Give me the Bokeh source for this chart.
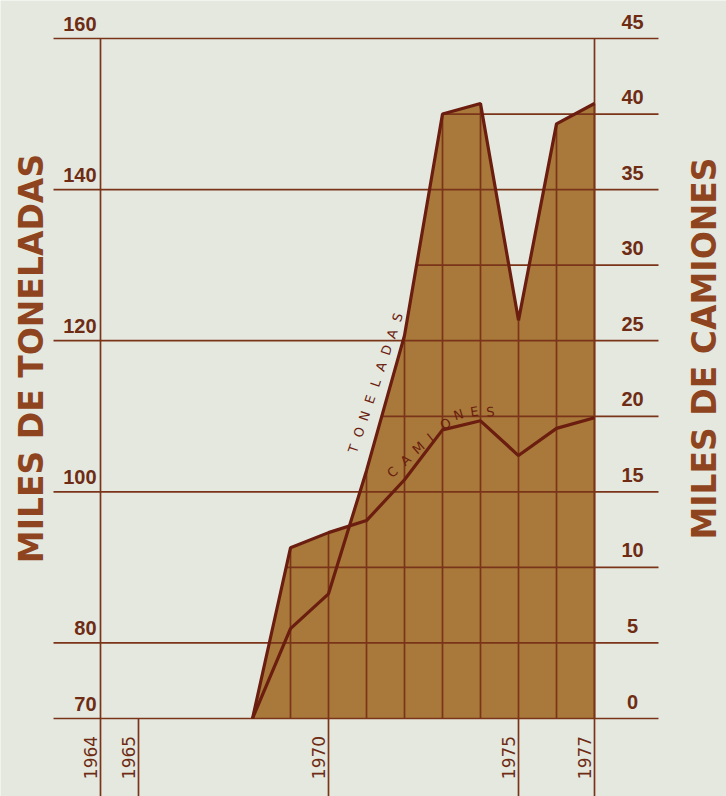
import numpy as np
from bokeh.plotting import figure
from bokeh.models import Range1d
from bokeh.core.properties import value
from bokeh.embed import file_html
from bokeh.resources import INLINE

# ---------------- data ----------------
years = [1968, 1969, 1970, 1971, 1972, 1973, 1974, 1975, 1976, 1977]
toneladas = [70.0, 81.9, 86.5, 102.8, 120.7, 150.0, 151.4, 122.7, 148.7, 151.4]   # miles de toneladas (left)
camiones = [0.0, 11.3, 12.3, 13.1, 15.8, 19.1, 19.7, 17.4, 19.2, 19.9]            # miles de camiones (right)

ton_ticks = [70, 80, 100, 120, 140, 160]
ton_grid = [70, 80, 90, 100, 110, 120, 130, 140, 150, 160]
cam_ticks = [0, 5, 10, 15, 20, 25, 30, 35, 40, 45]
year_ticks = [1964, 1965, 1970, 1975, 1977]
year_labels = ["1964", "1965", "1970", "1975", "1977"]

# ---------------- styles ----------------
BG = "#e5e8df"
FILL = "#a8793a"
LINE = "#6b1d0f"
GRID = "#7a3419"
TICK_TXT = "#6e2c14"
TITLE_TXT = "#8f4420"

W, H = 726, 796
PX_YEAR = 38.0            # px per year
PX_TON = 680.0 / 90.0     # px per thousand tons

x_start = 1964 - 100 / PX_YEAR
x_end = x_start + W / PX_YEAR
y_end = 160 + 38 / PX_TON
y_start = y_end - H / PX_TON
# right axis: 0..45 camiones <-> 70..160 toneladas
cam_start = (y_start - 70) * 45 / 90
cam_end = (y_end - 70) * 45 / 90

p = figure(width=W, height=H, x_range=Range1d(x_start, x_end), y_range=Range1d(y_start, y_end),
           x_axis_location=None, y_axis_location=None, toolbar_location=None,
           output_backend="svg", min_border=0, background_fill_color=BG,
           border_fill_color=BG, outline_line_color=None)
p.extra_y_ranges = {"cam": Range1d(cam_start, cam_end)}
p.grid.visible = False

# ---------------- filled areas ----------------
p.varea(x=years, y1=70, y2=toneladas, fill_color=FILL, fill_alpha=1)
p.varea(x=years, y1=0, y2=camiones, fill_color=FILL, fill_alpha=1, y_range_name="cam")

# upper edge of the union of both filled areas (in toneladas units)
ton_arr = np.array(toneladas)
cam_as_ton = 70 + np.array(camiones) * 90 / 45
top = np.maximum(ton_arr, cam_as_ton)
xs = np.linspace(years[0], years[-1], 9001)
top_fine = np.maximum(np.interp(xs, years, ton_arr), np.interp(xs, years, cam_as_ton))

line_x0 = 1964 - 47 / PX_YEAR
line_x1 = 1964 + 558 / PX_YEAR

# ---------------- horizontal rules ----------------
hx0, hx1, hy = [], [], []
for lv in ton_grid:
    if lv in ton_ticks:
        hx0.append(line_x0)
    else:
        hx0.append(xs[np.argmax(top_fine >= lv)])
    hx1.append(line_x1)
    hy.append(lv)
p.segment(x0=hx0, x1=hx1, y0=hy, y1=hy, line_color=GRID, line_width=1.7)

# ---------------- vertical rules ----------------
vx, vy0, vy1 = [], [], []
for yr, t in zip(years[1:], top[1:]):
    vx.append(yr); vy0.append(70); vy1.append(t)
for yr in year_ticks:
    vx.append(yr); vy0.append(y_start); vy1.append(70)
for yr in (1964, 1977):
    vx.append(yr); vy0.append(70); vy1.append(160)
p.segment(x0=vx, x1=vx, y0=vy0, y1=vy1, line_color=GRID, line_width=1.7)

# ---------------- series lines ----------------
p.line(years, toneladas, line_color=LINE, line_width=3.2)
p.line(years, camiones, line_color=LINE, line_width=3.2, y_range_name="cam")

# ---------------- tick labels ----------------
TICKF = value("Liberation Sans")
p.text(x=[1964] * len(ton_ticks), y=ton_ticks, text=[str(v) for v in ton_ticks],
       x_offset=-4, y_offset=-15, text_align="right", text_baseline="middle",
       text_font=TICKF, text_font_style="bold", text_font_size="20px", text_color=TICK_TXT)
p.text(x=[1978] * len(cam_ticks), y=cam_ticks, text=[str(v) for v in cam_ticks],
       y_offset=-17, text_align="center", text_baseline="middle", y_range_name="cam",
       text_font=TICKF, text_font_style="bold", text_font_size="20px", text_color=TICK_TXT)
p.text(x=year_ticks, y=[70] * len(year_ticks), text=year_labels, angle=np.pi / 2,
       x_offset=-10, y_offset=39, text_align="center", text_baseline="middle",
       text_font=value("DejaVu Sans"), text_font_size="17px", text_color=TICK_TXT)

# ---------------- axis titles ----------------
p.text(x=[1964 - 69 / PX_YEAR], y=[70 + 360 / PX_TON], text=["MILES DE TONELADAS"], angle=np.pi / 2,
       text_align="center", text_baseline="middle", text_font=value("DejaVu Sans"),
       text_font_style="bold", text_font_size="33px", text_color=TITLE_TXT)
p.text(x=[1964 + 604 / PX_YEAR], y=[70 + 370 / PX_TON], text=["MILES DE CAMIONES"], angle=np.pi / 2,
       text_align="center", text_baseline="middle", text_font=value("DejaVu Sans"),
       text_font_style="bold", text_font_size="33px", text_color=TITLE_TXT)

# ---------------- in-chart series labels (letter-spaced) ----------------
ton_letters = list("TONELADAS")
ton_lx = np.linspace(1970.66, 1971.82, len(ton_letters))
ton_ly = np.linspace(105.7, 123.1, len(ton_letters))
p.text(x=ton_lx, y=ton_ly, text=ton_letters, angle=1.246, text_align="center",
       text_baseline="middle", text_font=value("DejaVu Sans"), text_font_size="13px",
       text_color=LINE)

cam_letters = list("CAMIONES")
cam_lx = [1971.68, 1972.03, 1972.37, 1972.68, 1973.08, 1973.42, 1973.84, 1974.26]
cam_ly = [16.3, 17.1, 17.9, 18.6, 19.5, 20.1, 20.3, 20.3]
cam_ang = [0.72, 0.72, 0.72, 0.68, 0.5, 0.3, 0.15, 0.1]
p.text(x=cam_lx, y=cam_ly, text=cam_letters, angle=cam_ang, text_align="center",
       text_baseline="middle", y_range_name="cam", text_font=value("DejaVu Sans"),
       text_font_size="13px", text_color=LINE)

open("out.html", "w").write(file_html(p, INLINE))
